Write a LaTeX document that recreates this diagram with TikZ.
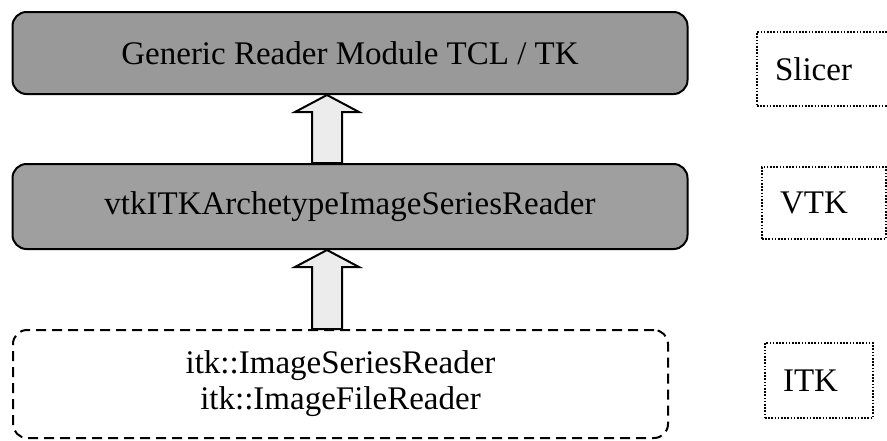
\documentclass[tikz,border=0pt]{standalone}
\usepackage{fontspec}
\setmainfont{Liberation Serif}
\tikzset{>=latex}

\begin{document}
\begin{tikzpicture}[x=0.5pt,y=-0.5pt,line width=1.0pt,
  module/.style={draw,rounded corners=7pt,inner sep=0pt,
    font=\fontsize{16.5}{18}\selectfont},
  layer/.style={draw,dash pattern=on 0.8pt off 0.8pt,line width=0.9pt,
    align=left,inner xsep=9pt,inner ysep=0pt,
    font=\fontsize{16.5}{18}\selectfont},
  fat/.style={fill=gray!15,to path={
    ([xshift=-7.5pt]\tikztostart) -- ([xshift=-7.5pt,yshift=-8.5pt]\tikztotarget)
    -- ([xshift=-16pt,yshift=-8.5pt]\tikztotarget) -- (\tikztotarget)
    -- ([xshift=16pt,yshift=-8.5pt]\tikztotarget)
    -- ([xshift=7.5pt,yshift=-8.5pt]\tikztotarget) -- ([xshift=7.5pt]\tikztostart)
    -- cycle}}]
  \useasboundingbox (0,0) rectangle (887,440);

  % modules
  \node[module,fill=gray!80,minimum width=337.5pt,minimum height=41pt]
    (gen) at (350,53) {Generic Reader Module TCL / TK};
  \node[module,fill=gray!75,minimum width=337.5pt,minimum height=42.5pt]
    (vtk) at (350,206.5) {vtkITKArchetypeImageSeriesReader};
  \node[module,dash pattern=on 5pt off 3pt,align=center,
    minimum width=327.5pt,minimum height=54pt]
    (itk) at (340.5,384) {itk::ImageSeriesReader\\itk::ImageFileReader};

  % arrows
  \coordinate (ax) at (327,0);
  \draw[fat] (vtk.north -| ax) to (gen.south -| ax);
  \draw[fat] (itk.north -| ax) to (vtk.south -| ax);

  % layers
  \node[layer,text width=48pt,minimum width=66pt,minimum height=37pt]
    (slicer) at (823,69) {Slicer};
  \node[layer,text width=44pt,minimum width=62pt,minimum height=36pt]
    (vtklayer) at (824,203) {VTK};
  \node[layer,text width=36pt,minimum width=54pt,minimum height=37.5pt]
    (itklayer) at (819,380.5) {ITK};
\end{tikzpicture}
\end{document}
